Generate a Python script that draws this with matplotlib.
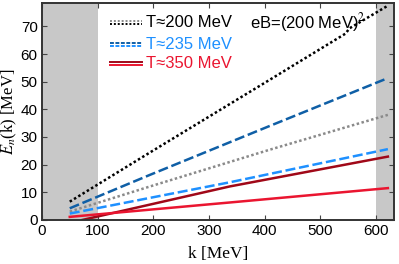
import matplotlib
matplotlib.use("Agg")
import matplotlib.pyplot as plt

k_a = [50, 194, 409, 545, 552, 621]
black = [6.6, 24.4, 50.7, 67.4, 69.3, 77.5]
k_b = [50, 194, 409, 621]
dblue = [4.2, 16.3, 34.0, 51.3]
gray = [3.0, 12.1, 25.4, 38.0]
k_c = [50, 337, 621]
lblue = [2.3, 13.6, 25.6]
red = [1.1, 6.3, 11.5]
k_dr = [73, 337, 621]
dred = [0.0, 12.1, 22.9]

c_black = "black"
c_gray = "#8a8a8a"
c_dblue = "#0f5fa6"
c_lblue = "#1e90ff"
c_dred = "#a00818"
c_red = "#ea1530"

plt.rcParams['font.family'] = ['Liberation Sans', 'DejaVu Sans']
plt.rcParams['mathtext.fontset'] = 'stix'
fig = plt.figure(figsize=(3.99, 2.64), dpi=100)
ax = fig.add_axes([0.105, 0.167, 0.8825, 0.822])

ax.axvspan(0, 100, color="#c8c8c8", lw=0)
ax.axvspan(600, 640, color="#c8c8c8", lw=0)

lw = 1.8
ax.plot(k_a, black, color=c_black, ls=(0, (1, 1)), lw=lw)
ax.plot(k_b, gray, color=c_gray, ls=(0, (1, 1)), lw=lw)
ax.plot(k_b, dblue, color=c_dblue, ls=(0, (4, 1.5)), lw=lw)
ax.plot(k_c, lblue, color=c_lblue, ls=(0, (4, 1.5)), lw=lw)
ax.plot(k_dr, dred, color=c_dred, lw=lw)
ax.plot(k_c, red, color=c_red, lw=lw)

ax.set_xlim(0, 632)
ax.set_ylim(0, 78.5)
ax.set_xticks([0, 100, 200, 300, 400, 500, 600])
ax.set_yticks([0, 10, 20, 30, 40, 50, 60, 70])
ax.tick_params(direction="in", top=True, right=True, length=3.5, width=0.8,
               labelsize=11, color="#444444", pad=3)
for s in ax.spines.values():
    s.set_linewidth(1.4)
    s.set_color("#333333")

ax.set_xlabel("k [MeV]", family="Liberation Serif", fontsize=12.5, labelpad=6)
ax.set_ylabel(r"$E_n$(k) [MeV]", family="Liberation Serif", fontsize=12, labelpad=1)

# legend drawn by hand, two stacked lines per entry (axes fractions)
entries = [
    ((c_gray, c_black), (0, (1, 1)), "T≈200 MeV", "black", 0.91),
    ((c_dblue, c_lblue), (0, (2, 0.8)), "T≈235 MeV", c_lblue, 0.81),
    ((c_dred, c_red), "-", "T≈350 MeV", c_red, 0.72),
]
for cols, ls, lab, tc, yy in entries:
    ax.plot([0.193, 0.283], [yy + 0.007, yy + 0.007], color=cols[0], ls=ls, lw=1.4,
            transform=ax.transAxes, clip_on=False)
    ax.plot([0.193, 0.283], [yy - 0.007, yy - 0.007], color=cols[1], ls=ls, lw=1.4,
            transform=ax.transAxes, clip_on=False)
    ax.text(0.297, yy, lab, color=tc, fontsize=12, va="center", ha="left",
            transform=ax.transAxes)

ax.text(0.59, 0.91, r"eB=(200 MeV)$^2$", fontsize=12, va="center", ha="left",
        transform=ax.transAxes)

fig.savefig("out.png", dpi=100)
